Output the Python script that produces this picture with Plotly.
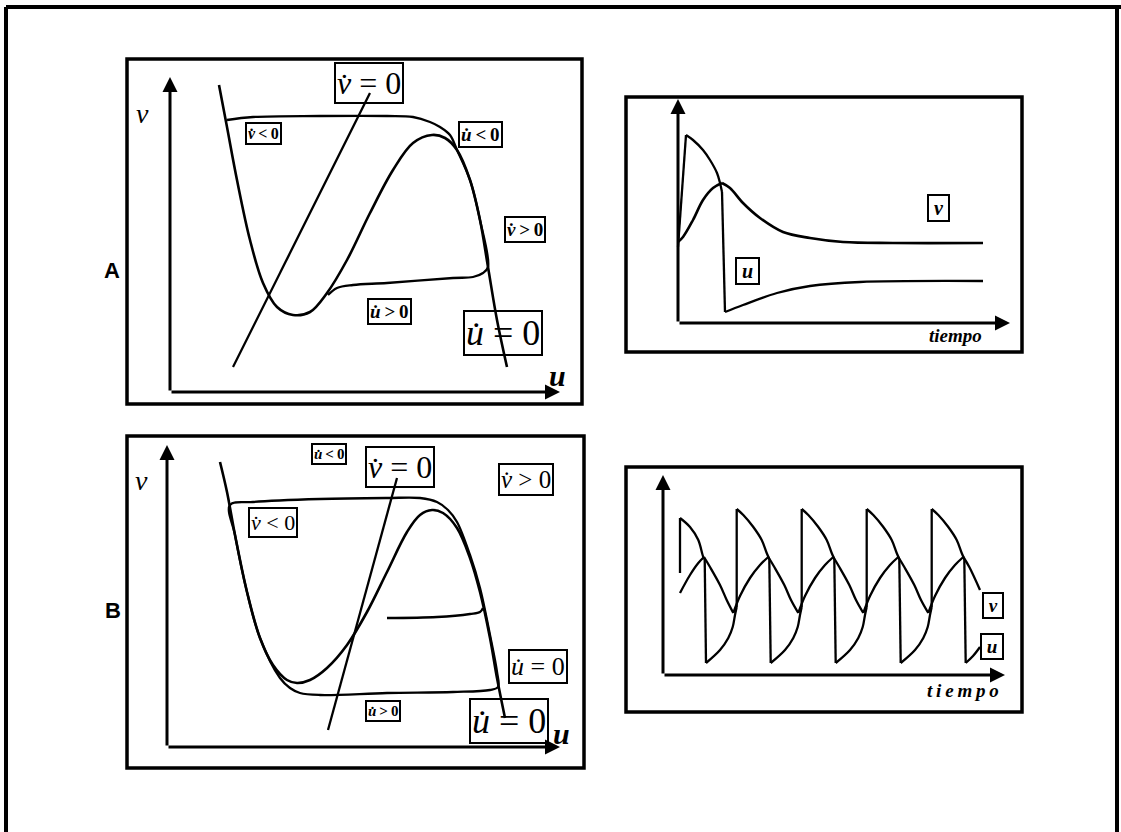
import plotly.graph_objects as go

W, H = 1121, 832
PX = 10.0  # pixels per data unit in every panel

# ---------------- Panel A: phase plane (u, v) ----------------
a_cubic_u = [4.9, 5.7, 6.7, 8.0, 9.3, 10.7, 12.3, 14.0, 15.7, 17.7, 20.0, 22.3,
             24.3, 26.2, 27.5, 28.7, 30.0, 31.0, 31.8, 32.7, 33.7]
a_cubic_v = [30.7, 26.5, 21.2, 15.2, 10.9, 8.5, 7.7, 8.0, 9.9, 13.2, 17.9, 22.2,
             24.9, 25.7, 25.4, 24.2, 21.2, 17.2, 12.5, 7.2, 2.5]
a_vnull_u = [6.3, 20.0]
a_vnull_v = [2.5, 29.9]
a_traj_u = [5.7, 8.3, 15.0, 21.7, 24.3, 26.0, 27.0, 28.0, 28.7, 30.0, 31.0, 31.8,
            31.3, 30.3, 28.3, 21.7, 18.3, 16.7, 15.8]
a_traj_v = [27.2, 27.5, 27.6, 27.6, 27.5, 27.0, 26.5, 25.7, 24.2, 21.2, 17.2, 12.5,
            11.9, 11.5, 11.4, 10.9, 10.7, 10.4, 9.7]

# ---------------- Panel A: time course ----------------
a_time_u = [0.0, 0.8, 1.5, 2.5, 3.2, 3.9, 4.2, 4.4, 4.7, 6.5, 9.9, 13.2, 18.2, 30.5]
a_u = [7.6, 18.8, 18.3, 17.3, 16.3, 15.0, 14.0, 13.1, 1.1, 1.8, 3.0, 3.7, 4.1, 4.2]
a_time_v = [0.0, 0.5, 1.5, 2.5, 3.5, 4.4, 5.2, 6.5, 8.2, 10.5, 13.2, 16.5, 21.5, 30.5]
a_v = [8.1, 8.6, 10.3, 12.3, 13.5, 14.0, 13.5, 12.0, 10.5, 9.1, 8.5, 8.1, 8.0, 8.0]

# ---------------- Panel B: phase plane (u, v) ----------------
b_cubic_u = [5.3, 6.0, 6.8, 8.0, 9.3, 10.6, 12.0, 13.0, 14.3, 16.0, 18.0, 20.0,
             22.0, 24.0, 25.3, 26.5, 27.6, 29.0, 30.3, 31.3, 32.3, 33.0, 33.8]
b_cubic_v = [28.5, 25.5, 21.2, 15.5, 10.9, 8.2, 6.7, 6.4, 6.7, 7.9, 10.2, 13.5,
             17.5, 21.5, 23.2, 23.7, 23.4, 21.9, 18.9, 15.5, 10.9, 6.9, 2.9]
b_vnull_u = [16.1, 23.0]
b_vnull_v = [1.7, 26.9]
b_cycle_u = [6.3, 8.6, 15.3, 22.0, 25.3, 27.0, 28.1, 29.0, 30.3, 31.3, 32.3, 33.0,
             33.1, 32.3, 28.6, 22.0, 15.3, 13.3, 12.3, 11.3, 9.3, 8.0, 6.8, 6.3]
b_cycle_v = [24.2, 24.5, 24.8, 24.9, 24.9, 24.5, 23.7, 22.5, 19.2, 15.9, 11.2, 7.5,
             6.0, 5.7, 5.5, 5.4, 5.2, 5.4, 5.9, 6.9, 10.9, 15.5, 21.2, 24.2]
b_start_u = [22.0, 27.0, 30.3, 31.3, 31.6]
b_start_v = [12.9, 13.0, 13.3, 13.5, 13.9]

# ---------------- Panel B: time course ----------------
b_time_u = [1.7, 1.7, 2.7, 3.53, 4.03, 4.17, 4.3,
            5.7, 6.53, 6.97, 7.2, 7.37, 7.37, 8.03, 9.03, 9.87, 10.37, 10.63, 10.77,
            12.2, 13.03, 13.47, 13.7, 13.87, 13.87, 14.53, 15.53, 16.37, 16.87, 17.13, 17.27,
            18.7, 19.53, 19.97, 20.2, 20.37, 20.37, 21.03, 22.03, 22.87, 23.37, 23.63, 23.77,
            25.2, 26.03, 26.47, 26.7, 26.87, 26.87, 27.53, 28.53, 29.37, 29.87, 30.13, 30.27,
            31.0, 31.7]
b_u = [10.2, 15.7, 14.8, 13.5, 11.8, 11.6, 1.2,
       2.5, 3.7, 4.8, 6.0, 6.8, 16.6, 16.0, 14.8, 13.5, 12.2, 11.6, 1.2,
       2.5, 3.7, 4.8, 6.0, 6.8, 16.6, 16.0, 14.8, 13.5, 12.2, 11.6, 1.2,
       2.5, 3.7, 4.8, 6.0, 6.8, 16.6, 16.0, 14.8, 13.5, 12.2, 11.6, 1.2,
       2.5, 3.7, 4.8, 6.0, 6.8, 16.6, 16.0, 14.8, 13.5, 12.2, 11.6, 1.2,
       1.9, 2.8]
b_time_v = [1.7, 2.7, 3.53, 4.1, 4.7, 5.7, 6.37, 7.03,
            7.7, 8.7, 9.7, 10.53, 11.13, 12.13, 12.8, 13.53,
            14.2, 15.2, 16.2, 17.03, 17.63, 18.63, 19.3, 20.03,
            20.7, 21.7, 22.7, 23.53, 24.13, 25.13, 25.8, 26.53,
            27.2, 28.2, 29.2, 30.03, 30.63, 31.7]
b_v = [8.2, 10.0, 11.2, 11.8, 10.8, 9.0, 7.5, 6.2,
       7.9, 9.7, 11.0, 11.8, 10.8, 9.0, 7.5, 6.2,
       7.9, 9.7, 11.0, 11.8, 10.8, 9.0, 7.5, 6.2,
       7.9, 9.7, 11.0, 11.8, 10.8, 9.0, 7.5, 6.2,
       7.9, 9.7, 11.0, 11.8, 10.8, 8.5]

# Region labels: (text, u, v, font size, boxed, bold)
DOT = "\u0307"
TS = "\u2009"  # thin space
a_phase_labels = [
    (f"<i>v{DOT}</i> = 0", 19.9, 30.9, 32, True, False),
    (f"<i>v{DOT}</i>{TS}&lt;{TS}0", 9.35, 25.9, 16, True, True),
    (f"<i>u{DOT}</i>{TS}&lt;{TS}0", 31.0, 25.8, 19, True, True),
    (f"<i>v{DOT}</i>{TS}&gt;{TS}0", 35.5, 16.25, 19, True, True),
    (f"<i>u{DOT}</i>{TS}&gt;{TS}0", 21.9, 8.05, 19, True, True),
    (f"<i>u{DOT}</i> = 0", 33.25, 5.95, 36, True, False),
    ("<i>ν</i>", -2.8, 27.9, 28, False, False),
    ("<i><b>u</b></i>", 38.7, 1.7, 30, False, False),
]
b_phase_labels = [
    (f"<i>u{DOT}</i>{TS}&lt;{TS}0", 16.18, 29.33, 15, True, True),
    (f"<i>v{DOT}</i> = 0", 23.27, 28.03, 32, True, False),
    (f"<i>v{DOT}</i> &gt; 0", 35.9, 26.73, 25, True, False),
    (f"<i>v{DOT}</i> &lt; 0", 10.58, 22.45, 22, True, False),
    (f"<i>u{DOT}</i> = 0", 37.05, 8.03, 26, True, False),
    (f"<i>u{DOT}</i>{TS}&gt;{TS}0", 21.58, 3.62, 15, True, True),
    (f"<i>u{DOT}</i> = 0", 34.22, 2.62, 36, True, False),
    ("<i>ν</i>", -2.53, 26.7, 28, False, False),
    ("<i><b>u</b></i>", 39.47, 1.37, 30, False, False),
]
a_time_labels = [
    (f"<b>{TS}<i>v</i>{TS}</b>", 26.0, 11.5, 20, True, False),
    (f"<b>{TS}<i>u</i>{TS}</b>", 6.9, 5.2, 20, True, False),
    ("<b><i>tiempo</i></b>", 27.7, -1.2, 19, False, False),
]
b_time_labels = [
    (f"<b>{TS}<i>v</i>{TS}</b>", 32.95, 7.0, 19, True, False),
    (f"<b>{TS}<i>u</i>{TS}</b>", 32.87, 2.83, 19, True, False),
    ("<b><i>t\u2009i\u2009e\u2009m\u2009p\u2009o</i></b>", 30.0, -1.5, 19, False, False),
]

# Panel geometry in pixels: frame box and axis origin
panels = [
    dict(box=(127, 59, 582, 404), origin=(170, 392), tips=(39.0, 31.5),
         curves=[(a_cubic_u, a_cubic_v, False, 2.6), (a_vnull_u, a_vnull_v, False, 2.3),
                 (a_traj_u, a_traj_v, False, 2.3)],
         labels=a_phase_labels),
    dict(box=(626, 97, 1022, 352), origin=(678, 323), tips=(33.2, 22.4),
         curves=[(a_time_u, a_u, True, 2.3), (a_time_v, a_v, True, 2.6)],
         labels=a_time_labels),
    dict(box=(127, 436, 584, 768), origin=(167, 747), tips=(39.3, 30.2),
         curves=[(b_cubic_u, b_cubic_v, False, 2.6), (b_vnull_u, b_vnull_v, False, 2.3),
                 (b_cycle_u, b_cycle_v, False, 2.3), (b_start_u, b_start_v, False, 2.3)],
         labels=b_phase_labels),
    dict(box=(626, 467, 1022, 712), origin=(663, 675), tips=(34.2, 20.0),
         curves=[(b_time_u, b_u, True, 2.3), (b_time_v, b_v, True, 2.3)],
         labels=b_time_labels),
]


def split_at_corners(xs, ys):
    """Insert gaps at jumps and turning points so each smooth stretch
    is splined on its own and the corners stay sharp."""
    n = len(xs)
    cuts = set()
    for i in range(n - 1):
        dx = abs(xs[i + 1] - xs[i])
        dy = abs(ys[i + 1] - ys[i])
        if dy > 8 * dx:
            cuts.update((i, i + 1))
    for i in range(1, n - 1):
        if (ys[i] - ys[i - 1]) * (ys[i + 1] - ys[i]) < 0:
            cuts.add(i)
    ox, oy, start = [], [], 0
    for c in sorted(cuts) + [n - 1]:
        if c <= start:
            continue
        ox += list(xs[start:c + 1]) + [None]
        oy += list(ys[start:c + 1]) + [None]
        start = c
    return ox, oy


SERIF = "Liberation Serif"
fig = go.Figure()
shapes, annotations = [], []

for k, p in enumerate(panels, start=1):
    x0, y0, x1, y1 = p["box"]
    ox, oy = p["origin"]
    sfx = "" if k == 1 else str(k)
    xa, ya = "x" + sfx, "y" + sfx
    fig.update_layout({
        "xaxis" + sfx: dict(domain=[x0 / W, x1 / W], range=[(x0 - ox) / PX, (x1 - ox) / PX],
                            visible=False, anchor=ya, fixedrange=True),
        "yaxis" + sfx: dict(domain=[1 - y1 / H, 1 - y0 / H], range=[(oy - y1) / PX, (oy - y0) / PX],
                            visible=False, anchor=xa, fixedrange=True),
    })
    shapes.append(dict(type="rect", xref=xa + " domain", yref=ya + " domain",
                       x0=0, x1=1, y0=0, y1=1, line=dict(color="black", width=3.5)))
    for xs, ys, sharp, lw in p["curves"]:
        if sharp:
            xs, ys = split_at_corners(xs, ys)
        fig.add_trace(go.Scatter(x=xs, y=ys, xaxis=xa, yaxis=ya, mode="lines",
                                 line=dict(color="black", width=lw, shape="spline", smoothing=1.0),
                                 connectgaps=False, hoverinfo="skip", showlegend=False))
    tx, ty = p["tips"]
    for ex, ey in ((tx, 0), (0, ty)):
        annotations.append(dict(x=ex, y=ey, ax=0, ay=0, xref=xa, yref=ya, axref=xa, ayref=ya,
                                text="", showarrow=True, arrowhead=2, arrowsize=1.0,
                                arrowwidth=3, arrowcolor="black"))
    for text, lx, ly, size, boxed, bold in p["labels"]:
        t = f"<b>{text}</b>" if bold else text
        ann = dict(x=lx, y=ly, xref=xa, yref=ya, text=t, showarrow=False,
                   font=dict(family=SERIF, size=size, color="black"),
                   xanchor="center", yanchor="middle")
        if boxed:
            ann.update(bordercolor="black", borderwidth=2, borderpad=1)
        annotations.append(ann)

# Row letters
for letter, px_, py_ in (("A", 112, 270), ("B", 113, 610)):
    annotations.append(dict(x=px_ / W, y=1 - py_ / H, xref="paper", yref="paper",
                            xanchor="center", yanchor="middle",
                            text=f"<b>{letter}</b>", showarrow=False,
                            font=dict(family="Liberation Sans", size=22, color="black")))

# Outer frame
for fx0, fy0, fx1, fy1 in ((6, 7, 6, 832), (6, 7, 1121, 7), (1117, 7, 1117, 832)):
    shapes.append(dict(type="line", xref="paper", yref="paper",
                       x0=fx0 / W, x1=fx1 / W, y0=1 - fy0 / H, y1=1 - fy1 / H,
                       line=dict(color="black", width=4)))

fig.update_layout(width=W, height=H, margin=dict(l=0, r=0, t=0, b=0),
                  paper_bgcolor="white", plot_bgcolor="rgba(0,0,0,0)",
                  shapes=shapes, annotations=annotations, showlegend=False)

fig.write_html("out.html")
